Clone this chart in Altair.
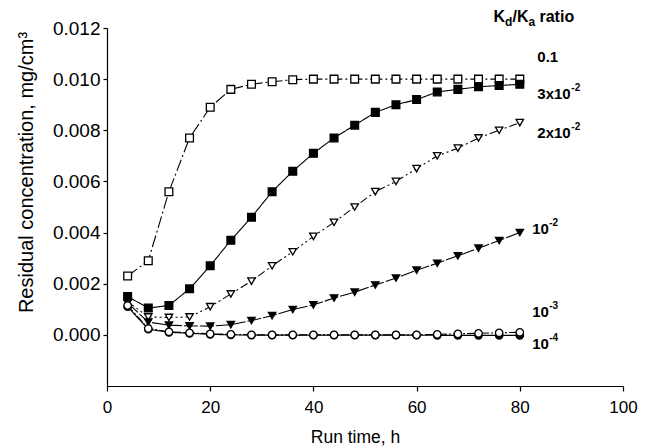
import altair as alt
import pandas as pd

hours = [4, 8, 12, 16, 20, 24, 28, 32, 36, 40, 44, 48, 52, 56, 60, 64, 68, 72, 76, 80]

s_0_1 = [0.0023, 0.0029, 0.0056, 0.0077, 0.0089, 0.0096, 0.0098, 0.0099, 0.00998, 0.0100,
         0.0100, 0.0100, 0.0100, 0.0100, 0.0100, 0.0100, 0.0100, 0.0100, 0.0100, 0.0100]
s_3e2 = [0.00150, 0.00105, 0.00115, 0.0018, 0.0027, 0.0037, 0.0046, 0.0056, 0.0064, 0.0071,
         0.0077, 0.0082, 0.0087, 0.0090, 0.0092, 0.0095, 0.0096, 0.0097, 0.00975, 0.0098]
s_2e2 = [0.0013, 0.0007, 0.00068, 0.0007, 0.0011, 0.0016, 0.0021, 0.0027, 0.00325, 0.00385,
         0.0044, 0.0050, 0.0056, 0.0060, 0.0065, 0.0070, 0.0073, 0.0077, 0.0080, 0.0083]
s_1e2 = [0.00125, 0.0005, 0.00038, 0.00035, 0.00034, 0.0004, 0.00056, 0.00075, 0.00099, 0.00117,
         0.00144, 0.00167, 0.00195, 0.00222, 0.00253, 0.0028, 0.00309, 0.00339, 0.00369, 0.0040]
s_1e3 = [0.00115, 0.00025, 0.00012, 0.00008, 0.00004, 0.00002, 0.0, 0.0, 0.0, 0.0,
         0.0, 0.0, 0.0, 0.0, 0.0, 0.00002, 0.00004, 0.00006, 0.00008, 0.0001]
s_1e4 = [0.0011, 0.00022, 0.0001, 0.00006, 0.00002, 0.0, -0.00001, -0.00001, -0.00001, -0.00001,
         -0.00001, -0.00001, -0.00001, -0.00001, -0.00001, -0.00002, -0.00002, -0.00002, -0.00002, -0.00002]

series = [
    # name, values, shape, filled, dash
    ("0.1", s_0_1, "square", False, [12, 3, 2, 3]),
    ("3x10-2", s_3e2, "square", True, [1, 0]),
    ("2x10-2", s_2e2, "triangle-down", False, [8, 3, 2, 3, 2, 3]),
    ("10-2", s_1e2, "triangle-down", True, [14, 2]),
    ("10-4", s_1e4, "circle", True, [1, 0]),
    ("10-3", s_1e3, "circle", False, [8, 2, 2, 2]),
]

rows = []
for name, vals, *_ in series:
    for h, v in zip(hours, vals):
        rows.append({"s": name, "t": h, "c": v})
df = pd.DataFrame(rows)

FONT = "Liberation Sans"

x_enc = alt.X(
    "t:Q",
    scale=alt.Scale(domain=[0, 100], nice=False),
    axis=alt.Axis(
        values=[0, 20, 40, 60, 80, 100], title="Run time, h", grid=False,
        labelFont=FONT, labelFontSize=17, labelColor="black", labelPadding=8,
        tickColor="black", tickSize=5, domainColor="black", domainWidth=1.2, tickWidth=1.2,
        titleFont=FONT, titleFontSize=17.5, titleFontWeight="normal", titleColor="black",
        titleBaseline="alphabetic", titleY=56, titleX=248, titleAlign="center", labelFlush=False,
    ),
)
y_enc = alt.Y(
    "c:Q",
    scale=alt.Scale(domain=[-0.002, 0.012], nice=False, zero=False),
    axis=alt.Axis(
        values=[0, 0.002, 0.004, 0.006, 0.008, 0.010, 0.012], format=".3f",
        title="Residual concentration, mg/cm³", grid=False,
        labelFont=FONT, labelFontSize=19, labelColor="black", labelPadding=3,
        tickColor="black", tickSize=4, domainColor="black", domainWidth=1.2, tickWidth=1.2,
        titleFont=FONT, titleFontSize=20, titleFontWeight="normal", titleColor="black",
        titleX=-81, titleY=144, titleBaseline="middle", titleAlign="center", labelFlush=False,
    ),
)

layers = []
for name, vals, shape, filled, dash in series:
    d = alt.Chart(df).transform_filter(alt.datum.s == name)
    layers.append(
        d.mark_line(color="black", strokeWidth=1.1, strokeDash=dash).encode(x=x_enc, y=y_enc)
    )
for name, vals, shape, filled, dash in series:
    d = alt.Chart(df).transform_filter(alt.datum.s == name)
    size = 60 if shape == "square" else 55
    layers.append(
        d.mark_point(
            shape=shape, filled=True, fill="black" if filled else "white",
            stroke="black", strokeWidth=1.3, size=size, opacity=1,
        ).encode(x=x_enc, y=y_enc)
    )

# annotations: text, t, c, dx, dy, size
annotations = [
    ("K", 74.9, 0.01244, 0, 0, 16),
    ("d", 74.9, 0.01244, 11.6, 5, 12),
    ("/K", 74.9, 0.01244, 19, 0, 16),
    ("a", 74.9, 0.01244, 35, 5, 12),
    ("ratio", 74.9, 0.01244, 46, 0, 16),
    ("0.1", 83.4, 0.01088, 0, 0, 15),
    ("3x10", 83.4, 0.0094, 0, 0, 15),
    ("-2", 83.4, 0.0094, 34, -6, 10),
    ("2x10", 83.4, 0.00791, 0, 0, 15),
    ("-2", 83.4, 0.00791, 34, -6, 10),
    ("10", 82.4, 0.00413, 0, 0, 15),
    ("-2", 82.4, 0.00413, 17, -6, 10),
    ("10", 82.4, 0.0009, 0, 0, 15),
    ("-3", 82.4, 0.0009, 17, -6, 10),
    ("10", 82.4, -0.00035, 0, 0, 15),
    ("-4", 82.4, -0.00035, 17, -6, 10),
]
for text, t, c, dx, dy, size in annotations:
    adf = pd.DataFrame([{"label": text, "t": t, "c": c}])
    layers.append(
        alt.Chart(adf).mark_text(
            align="left", baseline="middle", font=FONT, fontWeight="bold",
            fontSize=size, dx=dx, dy=dy, color="black",
        ).encode(x=x_enc, y=y_enc, text="label:N")
    )

chart = alt.layer(*layers).properties(
    width=516, height=358,
    autosize=alt.AutoSizeParams(type="none"),
    padding={"left": 107, "top": 28, "right": 27, "bottom": 62},
    background="white",
).configure_view(stroke=None)

chart.save("out.html", embed_options={"renderer": "svg", "actions": False})
